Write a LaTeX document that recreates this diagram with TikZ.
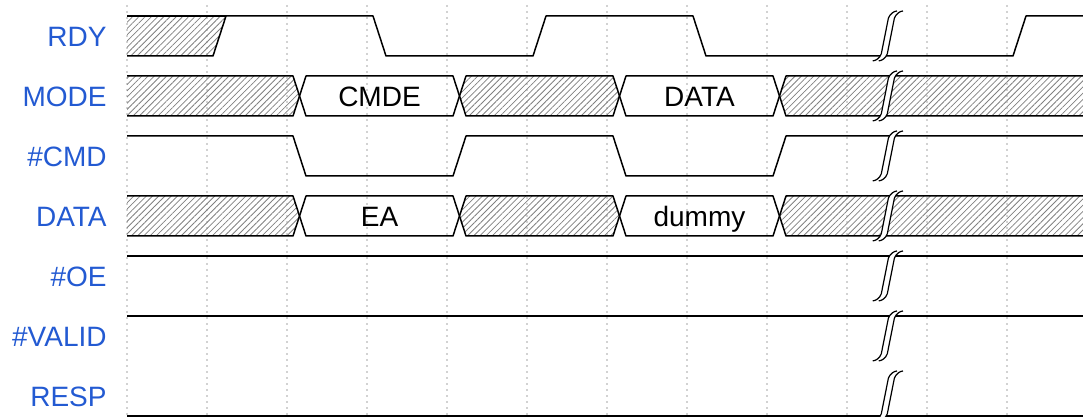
\documentclass[tikz,border=0pt]{standalone}
\usepackage{fontspec}
\setmainfont{Liberation Sans}
\usepackage{tikz}
\usetikzlibrary{
	patterns.meta
}
\definecolor{lanename}{RGB}{35,90,210}
\tikzset{
	wave/.style={line width=0.75pt, line join=round},
	hatch/.style={pattern={Lines[angle=45,distance=2.2pt,line width=0.4pt]}, pattern color=gray},
	gridline/.style={gray!35, line width=0.6pt, dash pattern=on 1pt off 2pt},
	gapfill/.style={fill=white},
	gapline/.style={line width=0.6pt},
	lane/.style={anchor=base east, inner sep=0pt, text=lanename, font=\fontsize{14}{16}\selectfont},
	busval/.style={anchor=base, inner sep=0pt, font=\fontsize{14}{16}\selectfont}
}

\begin{document}
\begin{tikzpicture}[x=0.5pt, y=-0.5pt]
	\useasboundingbox (0,0) rectangle (1083,417);
	\clip (0,0) rectangle (1083,417);

	\foreach \gx in {127,207,...,1007}
		\draw[gridline] (\gx,5) -- (\gx,417);

	\node[lane] (rdy)   at (107,46.5)  {RDY};
	\node[lane] (mode)  at (107,106.5) {MODE};
	\node[lane] (cmd)   at (107,166.5) {\#CMD};
	\node[lane] (data)  at (107,226.5) {DATA};
	\node[lane] (oe)    at (107,286.5) {\#OE};
	\node[lane] (valid) at (107,346.5) {\#VALID};
	\node[lane] (resp)  at (107,406.5) {RESP};

	\fill[hatch] (127,16) -- (226,16) -- (213,56) -- (127,56) -- cycle;
	\draw[wave] (127,16) -- (226,16);
	\draw[wave] (127,56) -- (213,56) -- (226,16) -- (373,16) -- (386,56) -- (533,56) -- (546,16)
		-- (693,16) -- (706,56) -- (1013,56) -- (1026,16) -- (1090,16);

	\fill[hatch] (127,76) -- (293,76) -- (299.5,96) -- (293,116) -- (127,116) -- cycle;
	\fill[hatch] (459.5,96) -- (466,76) -- (613,76) -- (619.5,96) -- (613,116) -- (466,116) -- cycle;
	\fill[hatch] (779.5,96) -- (786,76) -- (1090,76) -- (1090,116) -- (786,116) -- cycle;
	\draw[wave] (127,76) -- (293,76) -- (306,116) -- (453,116) -- (466,76) -- (613,76) -- (626,116)
		-- (773,116) -- (786,76) -- (1090,76);
	\draw[wave] (127,116) -- (293,116) -- (306,76) -- (453,76) -- (466,116) -- (613,116) -- (626,76)
		-- (773,76) -- (786,116) -- (1090,116);
	\node[busval] (cmde)  at (379.5,106.5) {CMDE};
	\node[busval] (datav) at (699.5,106.5) {DATA};

	\draw[wave] (127,136) -- (293,136) -- (306,176) -- (453,176) -- (466,136) -- (613,136) -- (626,176)
		-- (773,176) -- (786,136) -- (1090,136);

	\fill[hatch] (127,196) -- (293,196) -- (299.5,216) -- (293,236) -- (127,236) -- cycle;
	\fill[hatch] (459.5,216) -- (466,196) -- (613,196) -- (619.5,216) -- (613,236) -- (466,236) -- cycle;
	\fill[hatch] (779.5,216) -- (786,196) -- (1090,196) -- (1090,236) -- (786,236) -- cycle;
	\draw[wave] (127,196) -- (293,196) -- (306,236) -- (453,236) -- (466,196) -- (613,196) -- (626,236)
		-- (773,236) -- (786,196) -- (1090,196);
	\draw[wave] (127,236) -- (293,236) -- (306,196) -- (453,196) -- (466,236) -- (613,236) -- (626,196)
		-- (773,196) -- (786,236) -- (1090,236);
	\node[busval] (ea)    at (379.5,226.5) {EA};
	\node[busval] (dummy) at (699.5,226.5) {dummy};

	\draw[wave] (127,256) -- (1090,256);
	\draw[wave] (127,316) -- (1090,316);
	\draw[wave] (127,416) -- (1090,416);

	\foreach \cy in {36,96,...,396} {
		\begin{scope}[shift={(888,\cy)}]
			\fill[gapfill] (9,-25) .. controls (6.1,-25) and (1.9,-22.1) .. (0.4,-17.9) -- (-6.7,17.8)
				.. controls (-8.1,22.1) and (-12.4,24.9) .. (-15.3,24.9) -- (-9.3,24.9)
				.. controls (-6.4,24.9) and (-2.1,22.1) .. (-0.7,17.8) -- (6.4,-17.9)
				.. controls (7.9,-22.1) and (12.1,-25) .. (15,-25) -- cycle;
			\draw[gapline] (9,-25) .. controls (6.1,-25) and (1.9,-22.1) .. (0.4,-17.9) -- (-6.7,17.8)
				.. controls (-8.1,22.1) and (-12.4,24.9) .. (-15.3,24.9);
			\draw[gapline] (15,-25) .. controls (12.1,-25) and (7.9,-22.1) .. (6.4,-17.9) -- (-0.7,17.8)
				.. controls (-2.1,22.1) and (-6.4,24.9) .. (-9.3,24.9);
		\end{scope}
	}
\end{tikzpicture}
\end{document}
